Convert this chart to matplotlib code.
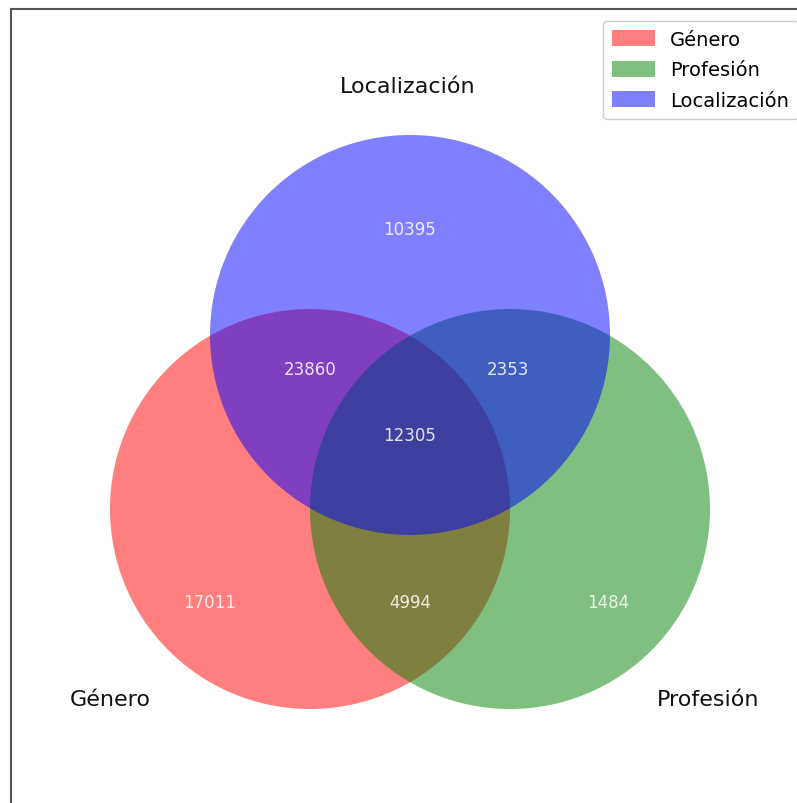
import matplotlib
matplotlib.use('Agg')
import matplotlib.pyplot as plt
from matplotlib.patches import Circle, Patch

# Set names and region counts
set_names = ['Género', 'Profesión', 'Localización']
set_colors = ['red', 'green', 'blue']
# regions: only G, G&P, only P, G&L, all, P&L, only L
region_labels = ['100', '110', '010', '101', '111', '011', '001']
region_counts = [17011, 4994, 1484, 23860, 12305, 2353, 10395]

W, H = 797, 804
fig = plt.figure(figsize=(W / 100, H / 100), dpi=100)

# axes in pixel units, extending past the right/bottom edge like the reference crop
x0, y0, x1, y1 = 11, 10, 840, 850
ax = fig.add_axes([x0 / W, 1 - y1 / H, (x1 - x0) / W, (y1 - y0) / H])
ax.set_xlim(x0, x1)
ax.set_ylim(y1, y0)
ax.set_xticks([])
ax.set_yticks([])
for s in ax.spines.values():
    s.set_linewidth(1.5)
    s.set_edgecolor('#555555')

# circle layout (unweighted venn)
r = 200
centers = {'Género': (310, 510), 'Profesión': (510, 510), 'Localización': (410, 336)}
for name, col in zip(set_names, set_colors):
    ax.add_patch(Circle(centers[name], r, facecolor=col, alpha=0.5, edgecolor='none'))

# positions of region labels
region_pos = {'100': (210, 603), '110': (410, 603), '010': (608, 603),
              '101': (310, 370), '111': (410, 436), '011': (508, 370), '001': (410, 230)}
for lab, cnt in zip(region_labels, region_counts):
    x, y = region_pos[lab]
    ax.text(x, y, str(cnt), ha='center', va='center', color='white', alpha=0.85, fontsize=12)

set_label_pos = {'Género': (110, 700), 'Profesión': (708, 700), 'Localización': (408, 87)}
for name in set_names:
    x, y = set_label_pos[name]
    ax.text(x, y, name, ha='center', va='center', fontsize=16, color='#111111')

handles = [Patch(facecolor=c, alpha=0.5, label=n) for n, c in zip(set_names, set_colors)]
leg = fig.legend(handles=handles, loc='upper left', bbox_to_anchor=(603 / W, 1 - 22 / H),
                 fontsize=14, borderaxespad=0, framealpha=1, handlelength=2.2,
                 handleheight=0.9, labelspacing=0.6, borderpad=0.45)

fig.savefig('out.png', dpi=100)
